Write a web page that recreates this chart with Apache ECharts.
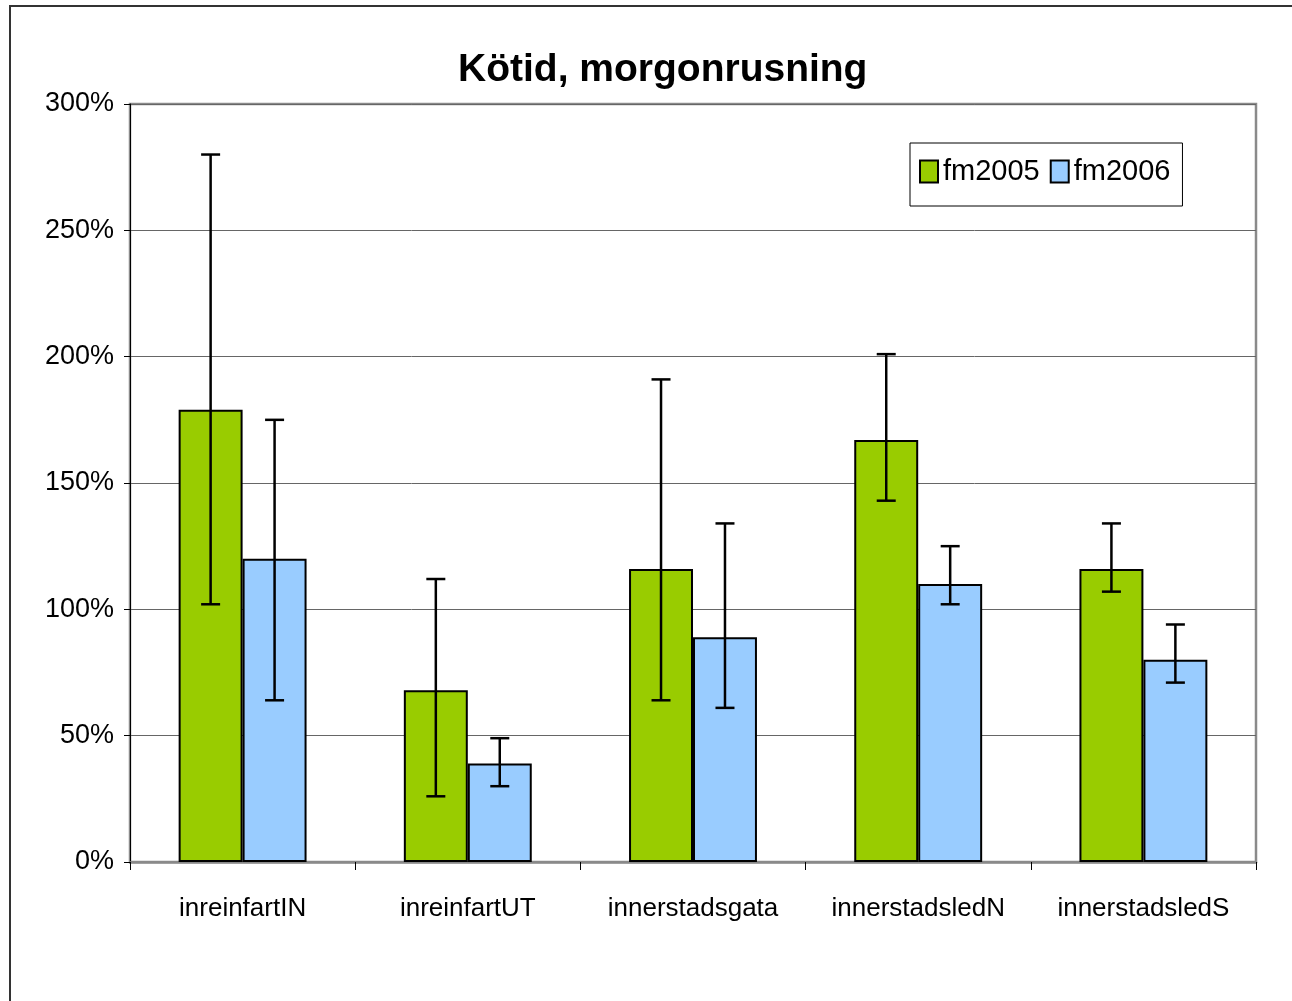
<!DOCTYPE html>
<html>
<head>
<meta charset="utf-8">
<script src="https://cdn.jsdelivr.net/npm/echarts@6/dist/echarts.min.js"></script>
<style>
  html, body { margin: 0; padding: 0; background: #fff; }
  #chart { width: 1292px; height: 1001px; }
</style>
</head>
<body>
<div id="chart"></div>
<script>
// data (percent)
const categories = ['inreinfartIN', 'inreinfartUT', 'innerstadsgata', 'innerstadsledN', 'innerstadsledS']
const seriesNames = ['fm2005', 'fm2006']
const fm2005 = [179, 68, 116, 167, 116]
const fm2006 = [120, 39, 89, 110, 80]
const fm2005Low = [102, 26, 64, 143, 107]
const fm2005High = [280, 112, 191, 201, 134]
const fm2006Low = [64, 30, 61, 102, 71]
const fm2006High = [175, 49, 134, 125, 94]
const yTicks = [0, 50, 100, 150, 200, 250, 300]

const font = "'Liberation Sans', Arial, sans-serif"
const barFrac = 0.284

const chart = echarts.init(document.getElementById('chart'))

// error bar drawn over the bar (side = -1 left bar, +1 right bar)
function errorBar(side) {
  return function (params, api) {
    const idx = api.value(0)
    const lo = api.coord([idx, api.value(1)])
    const hi = api.coord([idx, api.value(2)])
    const bw = api.size([1, 0])[0] * barFrac
    const x = lo[0] + side * bw / 2
    const cap = 9.5
    const style = { stroke: '#000', lineWidth: 2.5 }
    return {
      type: 'group',
      children: [
        { type: 'line', shape: { x1: x, y1: lo[1], x2: x, y2: hi[1] }, style: style },
        { type: 'line', shape: { x1: x - cap, y1: lo[1], x2: x + cap, y2: lo[1] }, style: style },
        { type: 'line', shape: { x1: x - cap, y1: hi[1], x2: x + cap, y2: hi[1] }, style: style }
      ]
    }
  }
}

function errData(low, high) {
  return categories.map((c, i) => [i, low[i], high[i]])
}

const option = {
  animation: false,
  backgroundColor: '#fff',
  title: {
    text: 'Kötid, morgonrusning',
    left: 453,
    top: 46,
    textStyle: { fontFamily: font, fontSize: 39, fontWeight: 'bold', color: '#000' }
  },
  legend: {
    data: seriesNames,
    left: 910,
    top: 143,
    padding: [14, 12, 20, 9],
    itemGap: 10,
    itemWidth: 18,
    itemHeight: 22,
    itemTextGap: 7,
    icon: 'rect',
    borderColor: '#000',
    borderWidth: 1,
    textStyle: { fontFamily: font, fontSize: 29, color: '#000' }
  },
  grid: {
    left: 130,
    right: 36,
    top: 104,
    bottom: 139,
    show: true,
    borderColor: '#8a8a8a',
    borderWidth: 2.5
  },
  xAxis: {
    type: 'category',
    data: categories,
    axisLine: { lineStyle: { color: '#8a8a8a', width: 2.5 } },
    axisTick: { show: true, interval: 0, length: 8, lineStyle: { color: '#000', width: 1 } },
    axisLabel: { interval: 0, margin: 34, fontFamily: font, fontSize: 26, color: '#000' }
  },
  yAxis: {
    type: 'value',
    min: yTicks[0],
    max: yTicks[yTicks.length - 1],
    interval: 50,
    axisLine: { show: true, lineStyle: { color: '#000', width: 1 } },
    axisTick: { show: true, length: 6, lineStyle: { color: '#000' } },
    axisLabel: { margin: 16, formatter: '{value}%', fontFamily: font, fontSize: 27, color: '#000' },
    splitLine: { lineStyle: { color: '#666', width: 1 } }
  },
  series: [
    {
      name: seriesNames[0],
      type: 'bar',
      data: fm2005,
      barWidth: (barFrac * 100) + '%',
      barGap: '0%',
      itemStyle: { color: '#99cc00', borderColor: '#000', borderWidth: 2 }
    },
    {
      name: seriesNames[1],
      type: 'bar',
      data: fm2006,
      barWidth: (barFrac * 100) + '%',
      barGap: '0%',
      itemStyle: { color: '#99ccff', borderColor: '#000', borderWidth: 2 }
    },
    {
      type: 'custom',
      renderItem: errorBar(-1),
      data: errData(fm2005Low, fm2005High),
      encode: { x: 0, y: [1, 2] },
      z: 10
    },
    {
      type: 'custom',
      renderItem: errorBar(1),
      data: errData(fm2006Low, fm2006High),
      encode: { x: 0, y: [1, 2] },
      z: 10
    }
  ],
  graphic: [
    {
      type: 'polyline',
      shape: { points: [[10, 1001], [10, 6], [1292, 6]] },
      style: { stroke: '#333', lineWidth: 2, fill: null }
    }
  ]
}

chart.setOption(option)
</script>
</body>
</html>
